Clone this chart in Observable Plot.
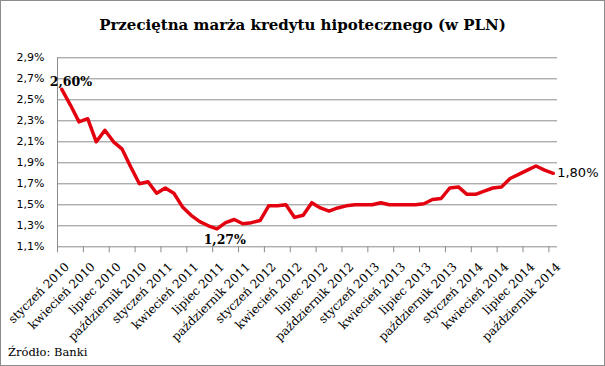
<!DOCTYPE html>
<html>
<head>
<meta charset="utf-8">
<script src="https://cdn.jsdelivr.net/npm/d3@7"></script>
<script src="https://cdn.jsdelivr.net/npm/@observablehq/plot@0.6"></script>
<style>
  body { margin: 0; background: #fff; }
  #chart { position: relative; width: 605px; height: 366px; box-sizing: border-box; border: 1px solid #8c8c8c; background: #fff; overflow: hidden; }
  #title { height: 29px; padding-top: 15px; line-height: 18px; font: bold 15px "DejaVu Serif", serif; text-align: center; color: #000; }
  #plot svg { display: block; }
  #source { height: 19px; padding-left: 7px; line-height: 15px; font: 11.5px "DejaVu Serif", serif; color: #000; }
</style>
</head>
<body>
<div id="chart">
  <div id="title">Przeciętna marża kredytu hipotecznego (w PLN)</div>
  <div id="plot"></div>
  <div id="source">Źródło: Banki</div>
</div>
<script>
// Monthly average mortgage margin (PLN), January 2010 – October 2014 (58 months)
const values = [
  2.60, 2.45, 2.29, 2.32, 2.10, 2.21, 2.10, 2.03, 1.86, 1.70, 1.72, 1.61,
  1.66, 1.61, 1.48, 1.40, 1.34, 1.30, 1.27, 1.33, 1.36, 1.32, 1.33, 1.35,
  1.49, 1.49, 1.50, 1.38, 1.40, 1.52, 1.47, 1.44, 1.47, 1.49, 1.50, 1.50,
  1.50, 1.52, 1.50, 1.50, 1.50, 1.50, 1.51, 1.55, 1.56, 1.66, 1.67, 1.60,
  1.60, 1.63, 1.66, 1.67, 1.75, 1.79, 1.83, 1.87, 1.83, 1.80
];
// Category labels shown on the axis (every third month)
const tickLabels = [
  "styczeń 2010", "kwiecień 2010", "lipiec 2010", "październik 2010",
  "styczeń 2011", "kwiecień 2011", "lipiec 2011", "październik 2011",
  "styczeń 2012", "kwiecień 2012", "lipiec 2012", "październik 2012",
  "styczeń 2013", "kwiecień 2013", "lipiec 2013", "październik 2013",
  "styczeń 2014", "kwiecień 2014", "lipiec 2014", "październik 2014"
];
const yTicks = [1.1, 1.3, 1.5, 1.7, 1.9, 2.1, 2.3, 2.5, 2.7, 2.9];
// Annotated points: index into values
const annFirst = [0];
const annMin = [18];
const annLast = [57];

const fmtPct = v => v.toFixed(2).replace(".", ",") + "%";
const rows = values.map((v, i) => ({i, v}));
const labelRows = tickLabels.map((t, k) => ({i: 3 * k, t}));
const bounds = labelRows.map(d => d.i - 0.5);

const grey = "#8c8c8c";
const red = "#e3000f";

const chart = Plot.plot({
  width: 603,
  height: 300,
  marginTop: 12.3,
  marginBottom: 98.7,
  marginLeft: 56,
  marginRight: 47,
  x: {type: "linear", domain: [-0.5, 57.5]},
  y: {domain: [1.1, 2.9]},
  marks: [
    Plot.gridY(yTicks, {stroke: grey, strokeOpacity: 1, strokeWidth: 1}),
    Plot.ruleX([-0.5], {stroke: grey, strokeWidth: 1}),
    Plot.axisX(bounds, {tickSize: 6, stroke: grey, fill: "none", label: null}),
    Plot.text(labelRows, {
      x: "i", frameAnchor: "bottom", text: "t", rotate: -45,
      textAnchor: "end", lineAnchor: "top", dx: 2, dy: 14.7,
      fontFamily: "DejaVu Serif", fontSize: 12, fill: "#000"
    }),
    Plot.axisY(yTicks, {
      tickSize: 0, tickPadding: 13, label: null,
      tickFormat: d => d.toFixed(1).replace(".", ",") + "%",
      fontFamily: "DejaVu Sans", fontSize: 11, fill: "#000"
    }),
    Plot.lineY(rows, {x: "i", y: "v", stroke: red, strokeWidth: 3.5, strokeLinejoin: "round", strokeLinecap: "round"}),
    Plot.text(annFirst, {
      x: d => d, y: d => values[d], text: d => fmtPct(values[d]),
      textAnchor: "start", lineAnchor: "bottom", dx: -12, dy: -3.3,
      fontFamily: "DejaVu Serif", fontWeight: "bold", fontSize: 12.5, fill: "#000"
    }),
    Plot.text(annMin, {
      x: d => d, y: d => values[d], text: d => fmtPct(values[d]),
      textAnchor: "middle", lineAnchor: "bottom", dx: 7.8, dy: 15,
      fontFamily: "DejaVu Serif", fontWeight: "bold", fontSize: 12.5, fill: "#000"
    }),
    Plot.text(annLast, {
      x: d => d, y: d => values[d], text: d => fmtPct(values[d]),
      textAnchor: "start", lineAnchor: "bottom", dx: 4, dy: 4,
      fontFamily: "DejaVu Sans", fontSize: 13, fill: "#000"
    })
  ]
});
document.getElementById("plot").appendChild(chart);
</script>
</body>
</html>
